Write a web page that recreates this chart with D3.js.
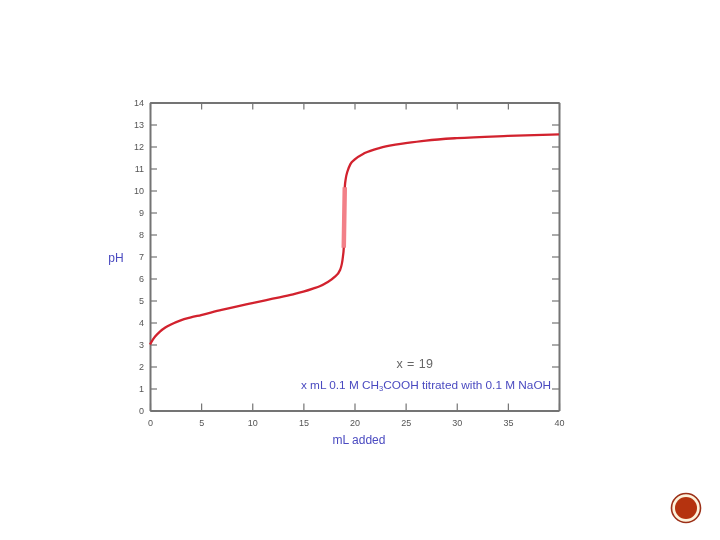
<!DOCTYPE html>
<html>
<head>
<meta charset="utf-8">
<script src="https://cdn.jsdelivr.net/npm/d3@7"></script>
<style>
  html, body { margin: 0; padding: 0; background: #ffffff; }
  svg { display: block; }
  text { font-family: "Liberation Sans", Arial, sans-serif; }
</style>
</head>
<body>
<div id="chart"></div>
<script>
'use strict';

// values
const mlAdded = [0, 0.25, 0.5, 1, 1.5, 2, 3, 4, 5, 7, 10, 12, 14, 15, 16, 16.6, 17.3, 18, 18.6, 18.87, 18.95, 19, 19.05, 19.15, 19.3, 19.6, 20, 21, 22.5, 24, 25, 27, 30, 35, 40];
const phValues = [3.0, 3.2, 3.36, 3.6, 3.77, 3.9, 4.1, 4.23, 4.34, 4.57, 4.88, 5.08, 5.28, 5.4, 5.55, 5.65, 5.82, 6.05, 6.4, 7.0, 7.4, 8.8, 10.15, 10.55, 10.85, 11.2, 11.4, 11.7, 11.94, 12.08, 12.15, 12.27, 12.38, 12.48, 12.55];
const xTicks = [0, 5, 10, 15, 20, 25, 30, 35, 40];
const yTicks = [0, 1, 2, 3, 4, 5, 6, 7, 8, 9, 10, 11, 12, 13, 14];
const xTitle = "mL added";
const yTitle = "pH";
const noteTop = "x = 19";

const width = 720, height = 540;
const plotLeft = 150, plotRight = 559, plotTop = 102.5, plotBottom = 410.5;
const tickLen = 7;
const gray = "#747474", blue = "#4a4ac0", red = "#d2222e";

const svg = d3.select("#chart").append("svg")
    .attr("width", width)
    .attr("height", height)
    .style("filter", "blur(0.6px)");

const xScale = d3.scaleLinear().domain([0, 40]).range([plotLeft, plotRight]);
const yScale = d3.scaleLinear().domain([0, 14]).range([plotBottom, plotTop]);

// all four sides carry inward ticks, only bottom and left have labels
function styleAxis(g) {
    g.selectAll("path").attr("stroke", gray).attr("stroke-width", 2);
    g.selectAll("line").attr("stroke", gray).attr("stroke-width", 1.2);
    g.selectAll("text").attr("fill", "#555555").attr("font-size", 9);
}

svg.append("g")
    .attr("transform", `translate(0,${plotBottom})`)
    .call(d3.axisBottom(xScale).tickValues(xTicks).tickSize(-tickLen).tickSizeOuter(0).tickPadding(9))
    .call(styleAxis);

svg.append("g")
    .attr("transform", `translate(0,${plotTop})`)
    .call(d3.axisTop(xScale).tickValues(xTicks).tickSize(-tickLen).tickSizeOuter(0).tickFormat(""))
    .call(styleAxis);

svg.append("g")
    .attr("transform", `translate(${plotLeft},0)`)
    .call(d3.axisLeft(yScale).tickValues(yTicks).tickSize(-tickLen).tickSizeOuter(0).tickPadding(6))
    .call(styleAxis);

svg.append("g")
    .attr("transform", `translate(${plotRight},0)`)
    .call(d3.axisRight(yScale).tickValues(yTicks).tickSize(-tickLen).tickSizeOuter(0).tickFormat(""))
    .call(styleAxis);

// titration curve
const points = mlAdded.map((x, i) => ({x: x, ph: phValues[i]}));
const line = d3.line()
    .x(d => xScale(d.x))
    .y(d => yScale(d.ph))
    .curve(d3.curveMonotoneX);

svg.append("path")
    .datum(points)
    .attr("fill", "none")
    .attr("stroke", red)
    .attr("stroke-width", 2.3)
    .attr("d", line);

// the steep part looks paler and wider in the original
svg.append("path")
    .datum(points.filter(d => d.ph >= 7.4 && d.ph <= 10.15))
    .attr("fill", "none")
    .attr("stroke", "#f28088")
    .attr("stroke-width", 4.5)
    .attr("d", line);

svg.append("text")
    .attr("x", 415).attr("y", 368)
    .attr("text-anchor", "middle")
    .attr("font-size", 12.5)
    .attr("letter-spacing", 0.4)
    .attr("fill", "#666666")
    .text(noteTop);

const note = svg.append("text")
    .attr("x", 426).attr("y", 389)
    .attr("text-anchor", "middle")
    .attr("font-size", 11.8)
    .attr("fill", blue);
note.append("tspan").text("x mL 0.1 M CH");
note.append("tspan").attr("font-size", 7.5).attr("dy", 2).text("3");
note.append("tspan").attr("dy", -2).text("COOH titrated with 0.1 M NaOH");

svg.append("text")
    .attr("x", 359).attr("y", 444)
    .attr("text-anchor", "middle")
    .attr("font-size", 12)
    .attr("fill", blue)
    .text(xTitle);

svg.append("text")
    .attr("x", 116).attr("y", 262)
    .attr("text-anchor", "middle")
    .attr("font-size", 12)
    .attr("fill", blue)
    .text(yTitle);

// slide badge, bottom right
const badge = svg.append("g").attr("transform", "translate(686,508)");
badge.append("circle").attr("r", 14.5).attr("fill", "#fdf3dc").attr("stroke", "#9c3018").attr("stroke-width", 1.6);
badge.append("circle").attr("r", 11).attr("fill", "#b5330f");
</script>
</body>
</html>
